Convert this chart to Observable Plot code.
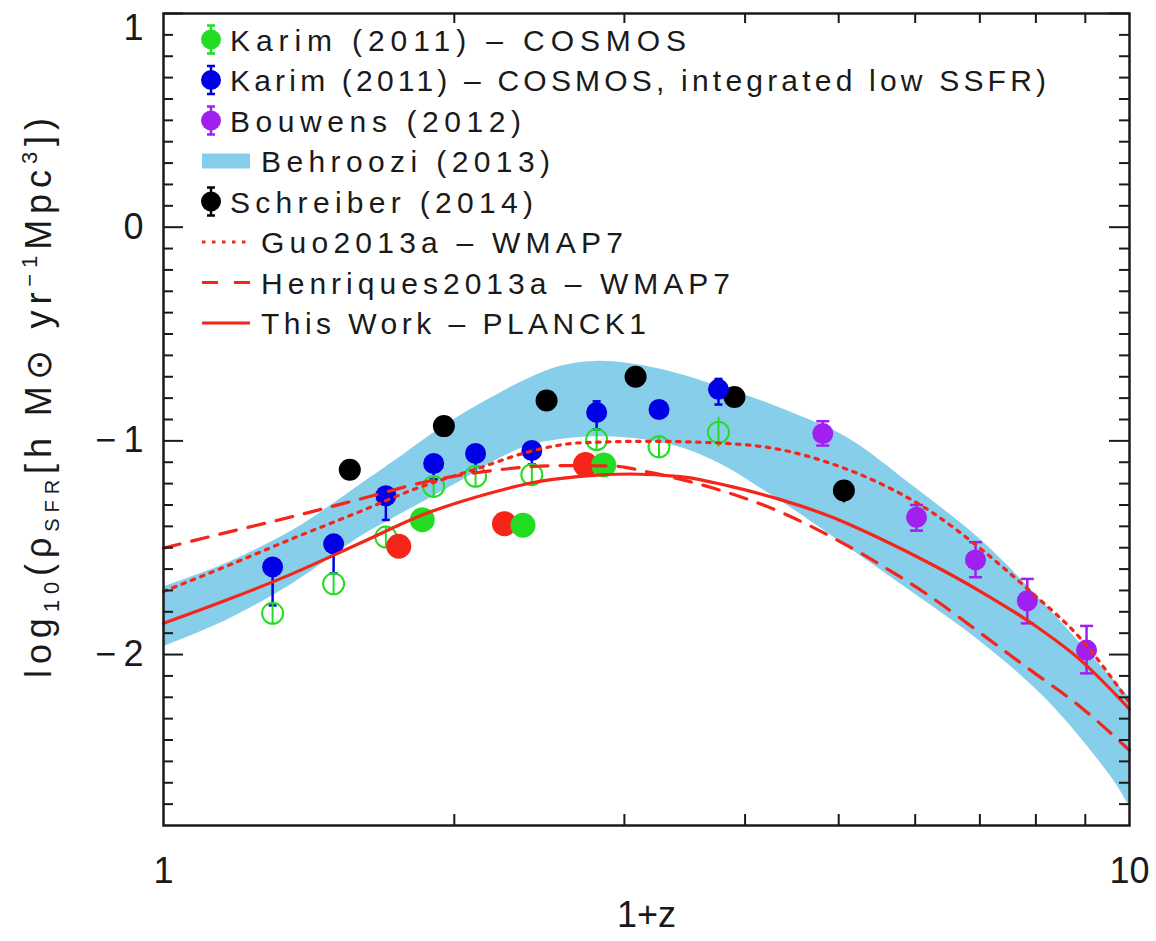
<!DOCTYPE html>
<html>
<head>
<meta charset="utf-8">
<script src="https://cdn.jsdelivr.net/npm/d3@7"></script>
<script src="https://cdn.jsdelivr.net/npm/@observablehq/plot@0.6"></script>
<style>
  html, body { margin: 0; padding: 0; background: #fff; }
  #chart { width: 1156px; height: 941px; }
</style>
</head>
<body>
<div id="chart"></div>
<script>
// ---------------- data ----------------
// Behroozi (2013) band
const bandX  = [1.000, 1.164, 1.364, 1.599, 1.731, 1.875, 2.030, 2.198, 2.379, 2.576, 2.789, 3.020, 3.269, 3.540, 3.832, 4.150, 4.493, 5.104, 5.979, 7.012, 8.219, 9.632, 10.0];
const bandHi = [-1.683, -1.571, -1.416, -1.205, -1.097, -0.984, -0.881, -0.792, -0.712, -0.651, -0.628, -0.637, -0.665, -0.707, -0.759, -0.811, -0.872, -0.985, -1.214, -1.463, -1.777, -2.120, -2.199];
const bandLo = [-1.963, -1.838, -1.665, -1.449, -1.361, -1.275, -1.189, -1.096, -1.025, -0.994, -0.981, -0.986, -1.008, -1.052, -1.125, -1.222, -1.322, -1.495, -1.713, -1.940, -2.214, -2.590, -2.711];

// Guo2013a - WMAP7 (dotted)
const guoX = [1.000, 1.164, 1.364, 1.599, 1.814, 2.129, 2.399, 2.702, 3.168, 3.710, 4.352, 4.902, 5.524, 6.223, 7.012, 7.898, 8.898, 10.0];
const guoY = [-1.705, -1.585, -1.455, -1.330, -1.228, -1.125, -1.049, -1.009, -1.002, -1.009, -1.041, -1.105, -1.200, -1.330, -1.505, -1.705, -1.925, -2.225];

// Henriques2013a - WMAP7 (dashed)
const henX = [1.000, 1.164, 1.364, 1.599, 1.875, 2.180, 2.556, 2.925, 3.168, 3.712, 4.352, 4.902, 5.524, 6.223, 7.012, 7.898, 8.898, 10.0];
const henY = [-1.502, -1.428, -1.353, -1.272, -1.190, -1.140, -1.116, -1.118, -1.145, -1.222, -1.333, -1.447, -1.580, -1.729, -1.900, -2.073, -2.245, -2.448];

// This Work - PLANCK1 (solid)
const twX = [1.000, 1.164, 1.364, 1.599, 1.875, 2.180, 2.399, 2.702, 3.044, 3.429, 3.864, 4.352, 4.902, 5.524, 6.223, 7.012, 7.898, 8.898, 10.0];
const twY = [-1.854, -1.744, -1.619, -1.478, -1.338, -1.244, -1.197, -1.166, -1.155, -1.167, -1.213, -1.275, -1.354, -1.458, -1.575, -1.705, -1.850, -2.026, -2.255];

// Karim (2011) - COSMOS, filled green
const karimX = [1.853, 2.356, 2.856];
const karimY = [-1.369, -1.395, -1.113];
// red filled points
const redX = [1.752, 2.254, 2.734];
const redY = [-1.493, -1.388, -1.111];

// Karim (2011) - COSMOS, open green circles
const openX  = [1.297, 1.500, 1.699, 1.904, 2.104, 2.406, 2.808, 3.258, 3.754];
const openY  = [-1.807, -1.669, -1.450, -1.213, -1.166, -1.158, -0.994, -1.028, -0.960];
const openLo = [-1.857, -1.719, -1.500, -1.263, -1.216, -1.208, -1.044, -1.078, -1.030];
const openHi = [-1.757, -1.619, -1.400, -1.163, -1.116, -1.108, -0.944, -0.978, -0.890];

// Karim (2011) - COSMOS, integrated low SSFR (blue)
const blueX  = [1.297, 1.500, 1.699, 1.904, 2.104, 2.406, 2.808, 3.258, 3.754];
const blueY  = [-1.590, -1.482, -1.257, -1.106, -1.059, -1.045, -0.867, -0.853, -0.759];
const blueLo = [-1.770, -1.620, -1.370, -1.180, -1.147, -1.110, -0.946, -0.853, -0.830];
const blueHi = [-1.590, -1.482, -1.257, -1.106, -1.059, -1.045, -0.815, -0.853, -0.710];

// Bouwens (2012), purple
const bouX  = [4.814, 6.019, 6.928, 7.838, 9.027];
const bouY  = [-0.966, -1.358, -1.557, -1.748, -1.979];
const bouLo = [-1.022, -1.420, -1.638, -1.854, -2.088];
const bouHi = [-0.908, -1.300, -1.474, -1.646, -1.866];

// Schreiber (2014), black
const schX  = [1.559, 1.951, 2.492, 3.081, 3.900, 5.062];
const schY  = [-1.135, -0.931, -0.811, -0.700, -0.795, -1.232];
const schLo = [-1.160, -0.956, -0.836, -0.725, -0.820, -1.290];
const schHi = [-1.110, -0.906, -0.786, -0.675, -0.770, -1.195];

// ticks
const yMajor = [-2, -1, 0, 1];
const yMajorLabels = ["\u2212\u20092", "\u2212\u20091", "0", "1"];
const xTicks = [2, 3, 4, 5, 6, 7, 8, 9];
const xLabelValues = [1, 10];
const xLabels = ["1", "10"];

// legend
const legendLabels = [
  "Karim (2011) \u2013 COSMOS",
  "Karim (2011) \u2013 COSMOS, integrated low SSFR)",
  "Bouwens (2012)",
  "Behroozi (2013)",
  "Schreiber (2014)",
  "Guo2013a \u2013 WMAP7",
  "Henriques2013a \u2013 WMAP7",
  "This Work \u2013 PLANCK1"
];
const legendKinds = ["dot", "dot", "dot", "band", "dot", "dotted", "dashed", "solid"];
const legendWidths = [456, 816, 291, 289, 303, 362, 469, 385];

// ---------------- styles ----------------
const GREEN = "#22dd22", BLUE = "#0000e6", PURPLE = "#a020f0", RED = "#f5251a", SKY = "#87ceeb", INK = "#1a1a1a";
const legendColors = [GREEN, BLUE, PURPLE, SKY, "#000", RED, RED, RED];
const FONT = "'Liberation Sans', Arial, Helvetica, sans-serif";

const W = 1156, H = 941, ML = 163, MR = 27, MT = 13, MB = 116;
const FW = W - ML - MR, FH = H - MT - MB;

const zip = (xs, ys, extra = {}) => xs.map((x, i) => {
  const o = {x, y: ys[i]};
  for (const k in extra) o[k] = extra[k][i];
  return o;
});

const band = bandX.map((x, i) => ({x, lo: bandLo[i], hi: bandHi[i]}));
const guo = zip(guoX, guoY);
const hen = zip(henX, henY);
const tw = zip(twX, twY);
const karim = zip(karimX, karimY);
const reds = zip(redX, redY);
const open = zip(openX, openY, {lo: openLo, hi: openHi});
const blue = zip(blueX, blueY, {lo: blueLo, hi: blueHi});
const bou = zip(bouX, bouY, {lo: bouLo, hi: bouHi});
const sch = zip(schX, schY, {lo: schLo, hi: schHi});

const hbar = {draw(ctx, size) { const w = Math.sqrt(size / Math.PI); ctx.moveTo(-w, 0); ctx.lineTo(w, 0); }};

const yMinor = d3.range(-27, 10).filter(i => i % 10 !== 0).map(i => i / 10);

const chart = Plot.plot({
  width: W, height: H,
  marginLeft: ML, marginRight: MR, marginTop: MT, marginBottom: MB,
  style: {fontFamily: FONT, background: "#fff", color: INK},
  x: {type: "log", domain: [1, 10], axis: null},
  y: {domain: [-2.8, 1.0], axis: null},
  marks: [
    Plot.areaY(band, {x: "x", y1: "lo", y2: "hi", fill: SKY, curve: "catmull-rom"}),

    // blue error bars
    Plot.ruleX(blue, {x: "x", y1: "lo", y2: "hi", stroke: BLUE, strokeWidth: 2.5}),
    Plot.dot(blue, {x: "x", y: "lo", symbol: hbar, r: 4, stroke: BLUE, fill: "none", strokeWidth: 2.5}),
    Plot.dot(blue, {x: "x", y: "hi", symbol: hbar, r: 4, stroke: BLUE, fill: "none", strokeWidth: 2.5}),

    // open green circles
    Plot.ruleX(open, {x: "x", y1: "lo", y2: "hi", stroke: GREEN, strokeWidth: 2}),
    Plot.dot(open, {x: "x", y: "y", r: 10.5, stroke: GREEN, strokeWidth: 2, fill: "none"}),

    // red & green filled
    Plot.dot(reds, {x: "x", y: "y", r: 12.5, fill: RED}),
    Plot.dot(karim, {x: "x", y: "y", r: 12.5, fill: GREEN}),

    // Schreiber
    Plot.ruleX(sch, {x: "x", y1: "lo", y2: "hi", stroke: "#000", strokeWidth: 2.5}),
    Plot.dot(sch, {x: "x", y: "y", r: 11, fill: "#000"}),

    // Bouwens
    Plot.ruleX(bou, {x: "x", y1: "lo", y2: "hi", stroke: PURPLE, strokeWidth: 2.5}),
    Plot.dot(bou, {x: "x", y: "lo", symbol: hbar, r: 6.5, stroke: PURPLE, fill: "none", strokeWidth: 2.5}),
    Plot.dot(bou, {x: "x", y: "hi", symbol: hbar, r: 6.5, stroke: PURPLE, fill: "none", strokeWidth: 2.5}),
    Plot.dot(bou, {x: "x", y: "y", r: 10.5, fill: PURPLE}),

    // blue dots
    Plot.dot(blue, {x: "x", y: "y", r: 10.5, fill: BLUE}),

    // model lines
    Plot.line(guo, {x: "x", y: "y", stroke: RED, strokeWidth: 3.2, strokeDasharray: "3.5,6.5", curve: "monotone-x"}),
    Plot.line(hen, {x: "x", y: "y", stroke: RED, strokeWidth: 3.2, strokeDasharray: "17,12", curve: "monotone-x"}),
    Plot.line(tw, {x: "x", y: "y", stroke: RED, strokeWidth: 3.2, curve: "monotone-x"}),

    // ticks (inward, on all four sides)
    Plot.ruleY(yMinor, {y: d => d, insetRight: FW - 10, stroke: INK, strokeWidth: 2}),
    Plot.ruleY(yMinor, {y: d => d, insetLeft: FW - 10, stroke: INK, strokeWidth: 2}),
    Plot.ruleY(yMajor, {y: d => d, insetRight: FW - 20, stroke: INK, strokeWidth: 2}),
    Plot.ruleY(yMajor, {y: d => d, insetLeft: FW - 20, stroke: INK, strokeWidth: 2}),
    Plot.ruleX(xTicks, {x: d => d, insetTop: FH - 11, stroke: INK, strokeWidth: 2}),
    Plot.ruleX(xTicks, {x: d => d, insetBottom: FH - 10, stroke: INK, strokeWidth: 2}),

    Plot.frame({stroke: INK, strokeWidth: 2.5}),

    // tick labels
    Plot.text(yMajor.slice(0, 3), {frameAnchor: "left", y: d => d, text: (d, i) => yMajorLabels[i],
      dx: -20, textAnchor: "end", lineAnchor: "middle", fontSize: 36, fill: INK}),
    Plot.text([yMajor[3]], {frameAnchor: "left", y: d => d, text: () => yMajorLabels[3],
      dx: -20, dy: 1, textAnchor: "end", lineAnchor: "top", fontSize: 36, fill: INK}),
    Plot.text(xLabelValues, {x: d => d, frameAnchor: "bottom", text: (d, i) => xLabels[i],
      dy: 46, lineAnchor: "middle", fontSize: 36, fill: INK}),
    Plot.text(["1+z"], {frameAnchor: "bottom", text: d => d, dy: 90, lineAnchor: "middle", fontSize: 36, fill: INK})
  ]
});

document.getElementById("chart").appendChild(chart);

// ---------------- legend (drawn inside the frame) ----------------
const svg = d3.select(chart);
const lg = svg.append("g").attr("class", "legend").attr("text-anchor", "start");
const rowY0 = 39.5, rowStep = 40.5;
legendLabels.forEach((label, i) => {
  const y = rowY0 + i * rowStep;
  const kind = legendKinds[i], color = legendColors[i];
  let tx = 261;
  if (kind === "dot") {
    tx = 230;
    lg.append("line").attr("x1", 211).attr("x2", 211).attr("y1", y - 14).attr("y2", y + 14)
      .attr("stroke", color).attr("stroke-width", 2.5);
    lg.append("line").attr("x1", 207).attr("x2", 215).attr("y1", y - 14).attr("y2", y - 14)
      .attr("stroke", color).attr("stroke-width", 2.5);
    lg.append("line").attr("x1", 207).attr("x2", 215).attr("y1", y + 14).attr("y2", y + 14)
      .attr("stroke", color).attr("stroke-width", 2.5);
    lg.append("circle").attr("cx", 211).attr("cy", y).attr("r", 10).attr("fill", color);
  } else if (kind === "band") {
    lg.append("rect").attr("x", 202).attr("y", y - 7.5).attr("width", 48).attr("height", 15).attr("fill", color);
  } else {
    const l = lg.append("line").attr("x1", 202).attr("x2", 250).attr("y1", y).attr("y2", y)
      .attr("stroke", color).attr("stroke-width", 3.2);
    if (kind === "dotted") l.attr("stroke-dasharray", "3.5,6.5");
    if (kind === "dashed") l.attr("stroke-dasharray", "16,16");
  }
  lg.append("text").attr("x", tx).attr("y", y + 11)
    .attr("text-anchor", "start")
    .attr("font-family", FONT).attr("font-size", 30).attr("fill", INK)
    .attr("textLength", legendWidths[i]).attr("lengthAdjust", "spacing")
    .text(label);
});

// ---------------- y axis title with sub/superscripts ----------------
const yt = svg.append("text")
  .attr("transform", "translate(51,398) rotate(-90)")
  .attr("text-anchor", "middle")
  .attr("font-family", FONT).attr("font-size", 36).attr("fill", INK)
  .attr("textLength", 560).attr("lengthAdjust", "spacing");
yt.append("tspan").text("log");
yt.append("tspan").attr("font-size", 22).attr("dy", 8).text("10");
yt.append("tspan").attr("dy", -8).text("(\u03C1");
yt.append("tspan").attr("font-size", 20).attr("dy", 8).text("SFR");
yt.append("tspan").attr("dy", -8).text("[h M\u2299 yr");
yt.append("tspan").attr("font-size", 22).attr("dy", -14).text("\u22121");
yt.append("tspan").attr("dy", 14).text("Mpc");
yt.append("tspan").attr("font-size", 22).attr("dy", -14).text("3");
yt.append("tspan").attr("dy", 14).text("])");
</script>
</body>
</html>
